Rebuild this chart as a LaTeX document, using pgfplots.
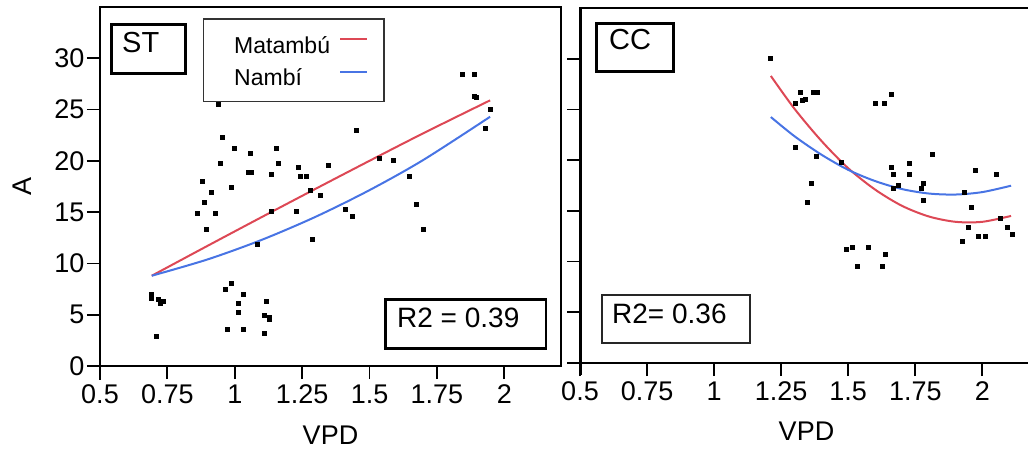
\documentclass[border=0pt]{standalone}
\usepackage{fontspec}
\setmainfont{Liberation Sans}
\usepackage{pgfplots}
\pgfplotsset{compat=1.18}
\definecolor{cred}{RGB}{221,72,85}
\definecolor{cblue}{RGB}{72,116,228}
\newcommand{\tickfont}{\fontsize{27}{27}\selectfont}
\newcommand{\labfont}{\fontsize{27}{27}\selectfont}
\begin{document}
\begin{tikzpicture}[x=1pt,y=1pt]
\useasboundingbox (0,0) rectangle (1028,451);
\clip (0,0) rectangle (1028,451);
\pgfplotsset{
  myaxis/.style={scale only axis, xmin=0.5, ymin=0, ymax=35,
    xtick={0.5,0.75,1,1.25,1.5,1.75,2},
    xticklabels={0.5,0.75,1,1.25,1.5,1.75,2},
    ytick={0,5,10,15,20,25,30},
    tick align=outside, xtick pos=bottom, ytick pos=left,
    major tick length=13pt,
    every tick/.style={black, line width=1.8pt},
    tick label style={font=\tickfont},
    xticklabel style={yshift=-2pt},
    yticklabel style={xshift=1pt},
    label style={font=\labfont},
  }
}
% ---------------- ST panel ----------------
\begin{axis}[myaxis, at={(100pt,85pt)}, anchor=south west,
  width=461pt, height=359pt, xmax=2.21,
  yticklabels={0,5,10,15,20,25,30},
  axis line style={line width=2.6pt},
  xlabel={VPD}, ylabel={A},
  xlabel style={at={(axis description cs:0.5,-0.192)}, anchor=center},
  ylabel style={at={(axis description cs:-0.168,0.5)}, anchor=center}]
\addplot[only marks, mark=square*, mark size=2pt, black] coordinates {
(1.845,28.4)(1.887,28.4)(1.888,26.3)(1.897,26.2)(1.947,25.0)(1.929,23.2)
(1.450,23.0)(0.955,22.3)(0.998,21.2)(1.058,20.7)(1.152,21.2)(0.946,19.8)
(1.160,19.8)(1.237,19.4)(1.348,19.6)(1.536,20.3)(1.587,20.1)(1.049,18.9)
(1.060,18.9)(1.134,18.7)(1.244,18.5)(1.263,18.5)(1.647,18.5)(0.878,18.0)
(0.912,16.9)(0.987,17.4)(1.280,17.1)(1.315,16.7)(0.887,16.0)(0.860,14.9)
(0.929,14.9)(1.134,15.1)(1.229,15.1)(1.408,15.3)(1.434,14.6)(1.673,15.8)
(0.894,13.3)(1.698,13.3)(1.288,12.4)(1.082,11.9)(0.937,25.5)
(0.689,6.98)(0.689,6.65)(0.715,6.5)(0.733,6.3)(0.724,6.1)(0.707,2.95)
(0.988,8.1)(0.964,7.5)(1.032,7.0)(1.014,6.1)(1.014,5.2)(1.118,6.3)
(1.108,4.97)(1.126,4.8)(1.128,4.55)(0.971,3.6)(1.032,3.6)(1.108,3.2)
};
\addplot[cred, line width=2pt, smooth] coordinates {
(0.692,8.8)(0.9,11.73)(1.1,14.52)(1.3,17.28)(1.5,20.01)(1.7,22.7)(1.947,25.9)
};
\addplot[cblue, line width=2pt, smooth] coordinates {
(0.692,8.8)(0.9,10.4)(1.1,12.3)(1.3,14.55)(1.5,17.15)(1.7,20.1)(1.947,24.3)
};
\end{axis}
\draw[line width=2.6pt] (87,85) -- (100,85);
\draw[line width=2.6pt] (100,85) -- (100,71);
% ST box
\draw[line width=2.5pt, fill=white] (111.7,426.7) rectangle (185.7,377.7);
\node[anchor=base west, inner sep=0, font=\fontsize{29}{29}\selectfont] at (122,399) {ST};
% legend
\draw[line width=1.5pt, draw=black!80, fill=white] (203.7,432) rectangle (384,349.3);
\node[anchor=base west, inner sep=0, font=\fontsize{23}{23}\selectfont] at (234,397.7) {Matambú};
\node[anchor=base west, inner sep=0, font=\fontsize{23}{23}\selectfont] at (234,366) {Nambí};
\draw[cred, line width=1.5pt] (340,412) -- (367,412);
\draw[cblue, line width=1.5pt] (340,379) -- (367,379);
% R2 box
\draw[line width=2.5pt, fill=white] (385.3,151.7) rectangle (546,102.7);
\node[anchor=base west, inner sep=0, font=\fontsize{28}{28}\selectfont] at (397,124) {R2 = 0.39};
% ---------------- CC panel ----------------
\begin{axis}[myaxis, at={(580pt,88pt)}, anchor=south west,
  width=456pt, height=355pt, xmax=2.2,
  yticklabels={},
  axis line style={line width=2pt},
  xlabel={VPD},
  xlabel style={at={(axis description cs:0.4967,-0.1915)}, anchor=center}]
\addplot[only marks, mark=square*, mark size=2pt, black] coordinates {
(1.210,30.1)(1.321,26.7)(1.303,25.6)(1.330,25.9)(1.340,26.0)(1.371,26.7)
(1.383,26.7)(1.303,21.3)(1.381,20.4)(1.363,17.7)(1.346,15.9)(1.474,19.8)
(1.602,25.6)(1.634,25.6)(1.660,26.5)(1.813,20.6)(1.729,19.7)(1.660,19.3)
(1.669,18.6)(1.729,18.6)(1.687,17.5)(1.669,17.2)(1.780,17.7)(1.771,17.2)
(1.780,16.1)(1.975,19.0)(2.051,18.6)(1.933,16.8)(1.958,15.4)(2.068,14.3)
(1.949,13.4)(1.924,12.0)(1.984,12.5)(2.009,12.5)(2.094,13.4)(2.112,12.7)
(1.491,11.2)(1.516,11.4)(1.576,11.4)(1.636,10.7)(1.534,9.5)(1.627,9.5)
};
\addplot[cred, line width=2pt, smooth] coordinates {
(1.2115,28.3)(1.3,25.05)(1.4,21.9)(1.5,19.2)(1.6,17.1)(1.7,15.5)(1.8,14.45)(1.9,13.92)(2.0,13.92)(2.107,14.5)
};
\addplot[cblue, line width=2pt, smooth] coordinates {
(1.2115,24.25)(1.3,22.35)(1.4,20.54)(1.5,19.04)(1.6,17.94)(1.7,17.15)(1.8,16.71)(1.9,16.61)(2.0,16.85)(2.107,17.48)
};
\end{axis}
\draw[line width=3pt] (580,76) -- (580,444);
\draw[line width=2pt] (567,88) -- (580,88);
% CC box
\draw[line width=2.5pt, fill=white] (596.7,427.7) rectangle (673.3,379.3);
\node[anchor=base west, inner sep=0, font=\fontsize{29}{29}\selectfont] at (609,401) {CC};
% R2 box
\draw[line width=1.6pt, draw=black!85, fill=white] (601.7,156) rectangle (750,108.3);
\node[anchor=base west, inner sep=0, font=\fontsize{28}{28}\selectfont] at (612,128) {R2= 0.36};
\end{tikzpicture}
\end{document}
